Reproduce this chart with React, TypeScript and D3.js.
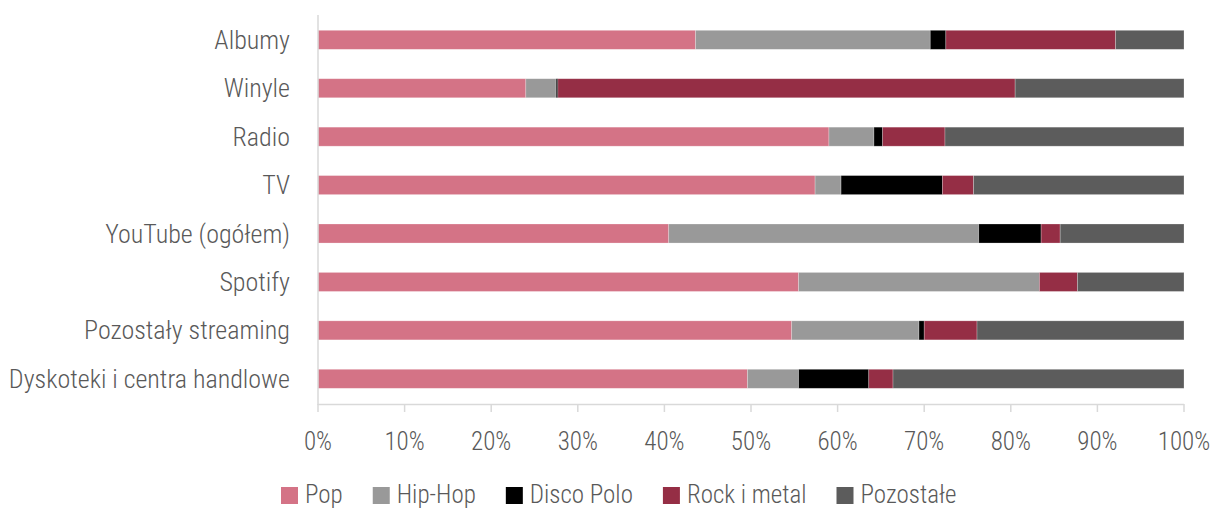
import React, { useEffect, useRef } from "react";
import * as d3 from "d3";

const categories = [
  "Albumy",
  "Winyle",
  "Radio",
  "TV",
  "YouTube (ogółem)",
  "Spotify",
  "Pozostały streaming",
  "Dyskoteki i centra handlowe",
];
const seriesNames = ["Pop", "Hip-Hop", "Disco Polo", "Rock i metal", "Pozostałe"];
const pop = [43.6, 24.0, 59.0, 57.4, 40.5, 55.5, 54.7, 49.6];
const hipHop = [27.1, 3.5, 5.2, 3.0, 35.8, 27.8, 14.7, 5.9];
const discoPolo = [1.8, 0.2, 1.0, 11.7, 7.2, 0.0, 0.6, 8.1];
const rockMetal = [19.6, 52.8, 7.2, 3.6, 2.2, 4.4, 6.1, 2.8];
const pozostale = [7.9, 19.5, 27.6, 24.3, 14.3, 12.3, 23.9, 33.6];
const tickValues = [0, 10, 20, 30, 40, 50, 60, 70, 80, 90, 100];
const colors = ["#D47386", "#999999", "#000000", "#952E45", "#5C5C5C"];

const FONT = "'Roboto Condensed', 'Liberation Sans Narrow', Roboto, sans-serif";

export default function App() {
  const ref = useRef<SVGSVGElement>(null);
  useEffect(() => {
    const svg = d3.select(ref.current);
    svg.selectAll("*").remove();
    const series = [pop, hipHop, discoPolo, rockMetal, pozostale];
    const x = d3.scaleLinear().domain([0, 100]).range([318, 1184]);
    const y = d3.scaleBand<string>().domain(categories).range([15.6, 403]).paddingInner(0.607).paddingOuter(0.3035);

    const axisColor = "#d9d9d9";
    const g = svg.append("g");
    categories.forEach((c, i) => {
      let acc = 0;
      series.forEach((s, k) => {
        const v = s[i];
        if (v > 0) {
          g.append("rect")
            .attr("x", x(acc))
            .attr("y", y(c)!)
            .attr("width", x(acc + v) - x(acc))
            .attr("height", y.bandwidth())
            .attr("fill", colors[k])
            .attr("stroke", "#ffffff")
            .attr("stroke-opacity", 0.35)
            .attr("stroke-width", 0.7);
        }
        acc += v;
      });
    });

    svg.append("line").attr("x1", x(0)).attr("x2", x(0)).attr("y1", 15).attr("y2", 405)
      .attr("stroke", axisColor).attr("stroke-width", 1.5);
    svg.append("line").attr("x1", x(0)).attr("x2", x(100)).attr("y1", 404.5).attr("y2", 404.5)
      .attr("stroke", axisColor).attr("stroke-width", 1.5);
    tickValues.forEach((t) => {
      svg.append("line").attr("x1", x(t)).attr("x2", x(t)).attr("y1", 404).attr("y2", 412)
        .attr("stroke", axisColor).attr("stroke-width", 1.5);
      svg.append("text").attr("x", x(t)).attr("y", 441).attr("dy", "0.35em")
        .attr("text-anchor", "middle").attr("font-family", FONT).attr("font-weight", 300)
        .attr("font-size", 25).attr("fill", "#595959").text(`${t}%`);
    });
    categories.forEach((c) => {
      svg.append("text").attr("x", 290).attr("y", y(c)! + y.bandwidth() / 2).attr("dy", "0.35em")
        .attr("text-anchor", "end").attr("font-family", FONT).attr("font-weight", 300)
        .attr("font-size", 26).attr("fill", "#595959").text(c);
    });

    const lg = svg.append("g");
    let lx = 281;
    seriesNames.forEach((n, k) => {
      lg.append("rect").attr("x", lx).attr("y", 487).attr("width", 17).attr("height", 17).attr("fill", colors[k]);
      const t = lg.append("text").attr("x", lx + 24).attr("y", 494).attr("dy", "0.35em")
        .attr("font-family", FONT).attr("font-weight", 300).attr("font-size", 25)
        .attr("fill", "#595959").text(n);
      const w = (t.node() as SVGTextElement).getComputedTextLength();
      lx += 24 + w + 30;
    });
  }, []);
  return <svg ref={ref} width={1212} height={510} style={{ position: "absolute", left: 0, top: 0, background: "#fff" }} />;
}
